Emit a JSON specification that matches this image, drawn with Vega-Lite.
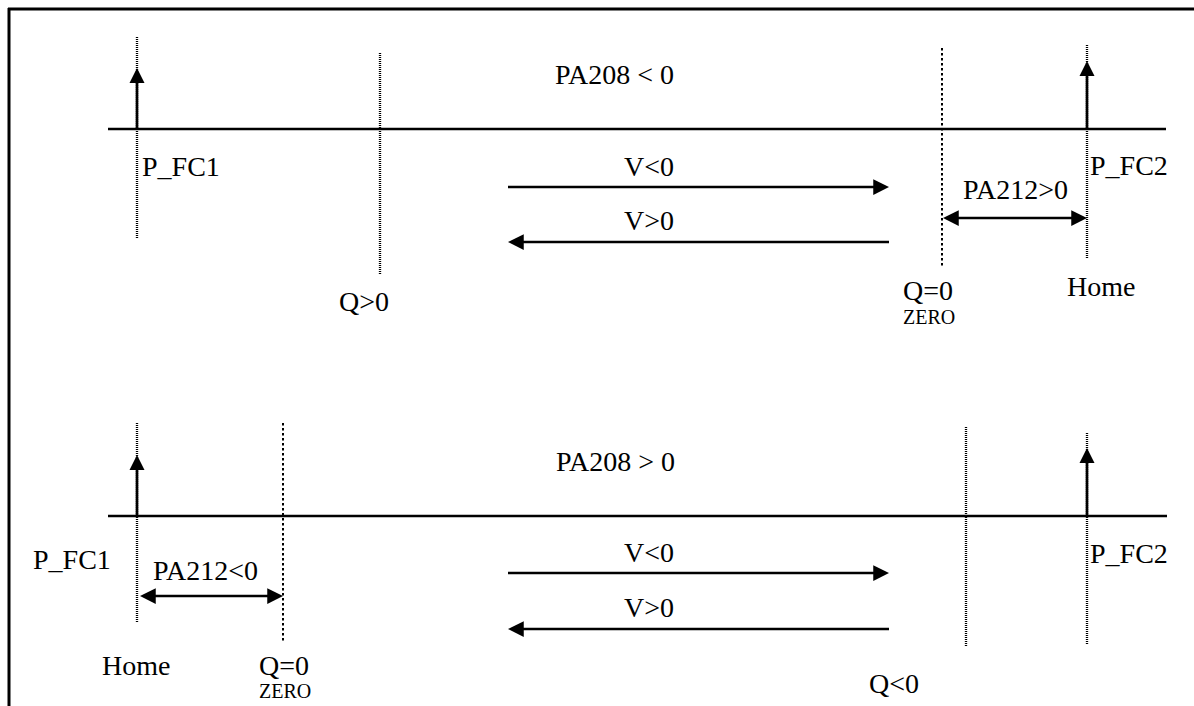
{
  "$schema": "https://vega.github.io/schema/vega-lite/v6.json",
  "width": 1194,
  "height": 706,
  "autosize": "none",
  "padding": 0,
  "background": "white",
  "config": {"view": {"stroke": null}},
  "datasets": {
    "lines": [
      {"kind": "border", "x": 8, "y": 9, "x2": 1194, "y2": 9},
      {"kind": "border", "x": 9, "y": 8, "x2": 9, "y2": 706},
      {"kind": "solid", "x": 108, "y": 129, "x2": 1166, "y2": 129},
      {"kind": "solid", "x": 108, "y": 516, "x2": 1167, "y2": 516},
      {"kind": "solid", "x": 137, "y": 129, "x2": 137, "y2": 78},
      {"kind": "solid", "x": 1087, "y": 129, "x2": 1087, "y2": 71},
      {"kind": "solid", "x": 137, "y": 516, "x2": 137, "y2": 465},
      {"kind": "solid", "x": 1087, "y": 516, "x2": 1087, "y2": 458},
      {"kind": "solid", "x": 508, "y": 187, "x2": 880, "y2": 187},
      {"kind": "solid", "x": 517, "y": 242, "x2": 889, "y2": 242},
      {"kind": "solid", "x": 951, "y": 218, "x2": 1079, "y2": 218},
      {"kind": "solid", "x": 508, "y": 573, "x2": 880, "y2": 573},
      {"kind": "solid", "x": 517, "y": 629, "x2": 889, "y2": 629},
      {"kind": "solid", "x": 148, "y": 596, "x2": 275, "y2": 596},
      {"kind": "fine", "x": 137, "y": 37, "x2": 137, "y2": 238},
      {"kind": "fine", "x": 380, "y": 53, "x2": 380, "y2": 274},
      {"kind": "fine", "x": 1087, "y": 45, "x2": 1087, "y2": 258},
      {"kind": "fine", "x": 137, "y": 423, "x2": 137, "y2": 623},
      {"kind": "fine", "x": 966, "y": 427, "x2": 966, "y2": 647},
      {"kind": "fine", "x": 1087, "y": 433, "x2": 1087, "y2": 645},
      {"kind": "heavy", "x": 942, "y": 48, "x2": 942, "y2": 267},
      {"kind": "heavy", "x": 283, "y": 423, "x2": 283, "y2": 642}
    ],
    "heads": [
      {"dir": "up", "x": 137, "y": 68},
      {"dir": "up", "x": 1087, "y": 61},
      {"dir": "up", "x": 137, "y": 455},
      {"dir": "up", "x": 1087, "y": 448},
      {"dir": "right", "x": 889, "y": 187},
      {"dir": "left", "x": 508, "y": 242},
      {"dir": "left", "x": 943, "y": 218},
      {"dir": "right", "x": 1087, "y": 218},
      {"dir": "right", "x": 889, "y": 573},
      {"dir": "left", "x": 508, "y": 629},
      {"dir": "left", "x": 140, "y": 596},
      {"dir": "right", "x": 283, "y": 596}
    ],
    "labels": [
      {"t": "PA208 < 0", "role": "big", "x": 555, "y": 84},
      {"t": "P_FC1", "role": "big", "x": 142, "y": 176},
      {"t": "P_FC2", "role": "big", "x": 1090, "y": 175},
      {"t": "V<0", "role": "big", "x": 624, "y": 176},
      {"t": "V>0", "role": "big", "x": 624, "y": 230},
      {"t": "PA212>0", "role": "big", "x": 963, "y": 199},
      {"t": "Q>0", "role": "big", "x": 339, "y": 311},
      {"t": "Q=0", "role": "big", "x": 903, "y": 300},
      {"t": "ZERO", "role": "small", "x": 903, "y": 324},
      {"t": "Home", "role": "big", "x": 1067, "y": 296},
      {"t": "PA208 > 0", "role": "big", "x": 556, "y": 471},
      {"t": "P_FC1", "role": "big", "x": 33, "y": 569},
      {"t": "P_FC2", "role": "big", "x": 1090, "y": 563},
      {"t": "V<0", "role": "big", "x": 624, "y": 562},
      {"t": "V>0", "role": "big", "x": 624, "y": 617},
      {"t": "PA212<0", "role": "big", "x": 153, "y": 580},
      {"t": "Home", "role": "big", "x": 102, "y": 675},
      {"t": "Q=0", "role": "big", "x": 259, "y": 675},
      {"t": "ZERO", "role": "small", "x": 259, "y": 698},
      {"t": "Q<0", "role": "big", "x": 869, "y": 693}
    ]
  },
  "layer": [
    {
      "data": {"name": "lines"},
      "mark": {"type": "rule", "color": "black", "strokeCap": "butt"},
      "encoding": {
        "x": {"field": "x", "type": "quantitative", "scale": {"domain": [0, 1194], "nice": false, "zero": false}, "axis": null},
        "y": {"field": "y", "type": "quantitative", "scale": {"domain": [0, 706], "nice": false, "zero": false, "reverse": true}, "axis": null},
        "x2": {"field": "x2"},
        "y2": {"field": "y2"},
        "strokeWidth": {"field": "kind", "type": "nominal", "scale": {"domain": ["border", "solid", "fine", "heavy"], "range": [3, 2, 1, 3]}, "legend": null},
        "strokeDash": {"field": "kind", "type": "nominal", "scale": {"domain": ["border", "solid", "fine", "heavy"], "range": [[1, 0], [1, 0], [1, 1], [2.5, 2.5]]}, "legend": null}
      }
    },
    {
      "data": {"name": "heads"},
      "mark": {"type": "point", "filled": true, "color": "black", "opacity": 1, "size": 225, "strokeWidth": 0},
      "encoding": {
        "x": {"field": "x", "type": "quantitative", "scale": {"domain": [0, 1194], "nice": false, "zero": false}, "axis": null},
        "y": {"field": "y", "type": "quantitative", "scale": {"domain": [0, 706], "nice": false, "zero": false, "reverse": true}, "axis": null},
        "shape": {"field": "dir", "type": "nominal", "scale": {"domain": ["up", "right", "left"], "range": ["M0,0L-1,2L1,2Z", "M0,0L-2.1,-1.05L-2.1,1.05Z", "M0,0L2.1,-1.05L2.1,1.05Z"]}, "legend": null}
      }
    },
    {
      "data": {"name": "labels"},
      "mark": {"type": "text", "align": "left", "baseline": "alphabetic", "font": "Liberation Serif", "color": "black"},
      "encoding": {
        "x": {"field": "x", "type": "quantitative", "scale": {"domain": [0, 1194], "nice": false, "zero": false}, "axis": null},
        "y": {"field": "y", "type": "quantitative", "scale": {"domain": [0, 706], "nice": false, "zero": false, "reverse": true}, "axis": null},
        "text": {"field": "t"},
        "size": {"field": "role", "type": "nominal", "scale": {"domain": ["big", "small"], "range": [28, 20]}, "legend": null}
      }
    }
  ]
}
